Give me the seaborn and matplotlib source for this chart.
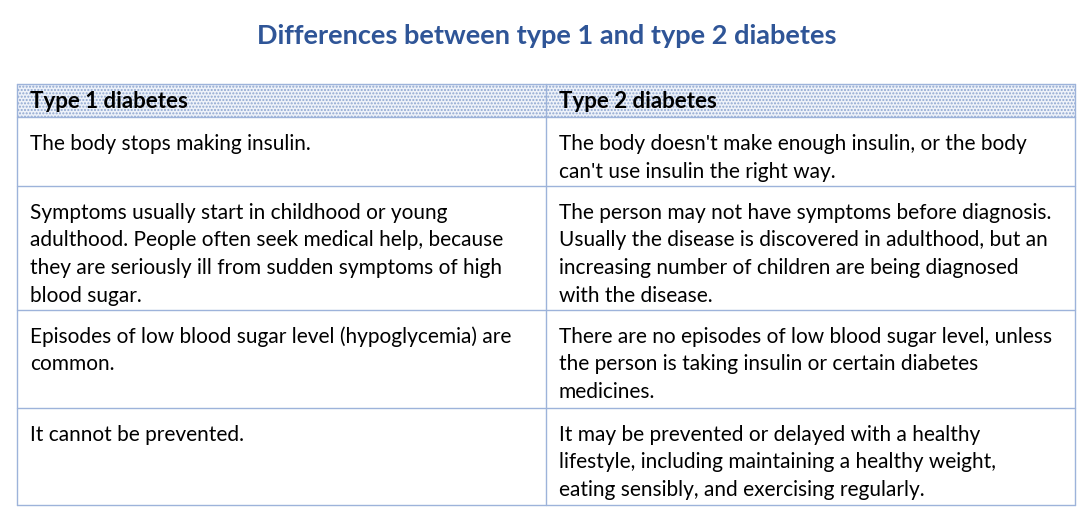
import matplotlib.pyplot as plt
import seaborn as sns

title = "Differences between type 1 and type 2 diabetes"
headers = ["Type 1 diabetes", "Type 2 diabetes"]
type1 = [
    ["The body stops making insulin."],
    ["Symptoms usually start in childhood or young",
     "adulthood. People often seek medical help, because",
     "they are seriously ill from sudden symptoms of high",
     "blood sugar."],
    ["Episodes of low blood sugar level (hypoglycemia) are",
     "common."],
    ["It cannot be prevented."],
]
type2 = [
    ["The body doesn't make enough insulin, or the body",
     "can't use insulin the right way."],
    ["The person may not have symptoms before diagnosis.",
     "Usually the disease is discovered in adulthood, but an",
     "increasing number of children are being diagnosed",
     "with the disease."],
    ["There are no episodes of low blood sugar level, unless",
     "the person is taking insulin or certain diabetes",
     "medicines."],
    ["It may be prevented or delayed with a healthy",
     "lifestyle, including maintaining a healthy weight,",
     "eating sensibly, and exercising regularly."],
]

sns.set_theme(style="white")
plt.rcParams['font.family'] = ['Lato', 'DejaVu Sans']
plt.rcParams['hatch.color'] = '#8EA6D0'

W, H = 1091, 531
fig = plt.figure(figsize=(W / 100, H / 100), dpi=100)
ax = fig.add_axes([0, 0, 1, 1])
ax.set_xlim(0, W)
ax.set_ylim(H, 0)
ax.axis('off')

border = '#9DB3DA'
left, mid, right = 17, 546, 1075
head_top, head_bot = 84, 117
row_lines = [117, 186, 310, 408, 505]

ax.text(547, 36, title, ha='center', va='center', fontsize=19.5,
        fontweight='bold', color='#2F5597')

# header with dotted shading
ax.add_patch(plt.Rectangle((left, head_top), right - left, head_bot - head_top,
                           facecolor='#EEF2F9', edgecolor='#8EA6D0', hatch='.....',
                           linewidth=0))
for x, h in zip([30, 559], headers):
    ax.text(x, 101, h, ha='left', va='center', fontsize=16,
            fontweight='bold', color='black')

# grid lines
for y in [head_top] + row_lines:
    ax.plot([left, right], [y, y], color=border, lw=1)
for x in [left, mid, right]:
    ax.plot([x, x], [head_top, row_lines[-1]], color=border, lw=1)

for i, (c1, c2) in enumerate(zip(type1, type2)):
    top = row_lines[i]
    for x, lines in [(30, c1), (559, c2)]:
        for j, line in enumerate(lines):
            ax.text(x, top + 27 + j * 27.5, line, ha='left', va='center',
                    fontsize=15, color='black')

fig.savefig('out.png', dpi=100)
